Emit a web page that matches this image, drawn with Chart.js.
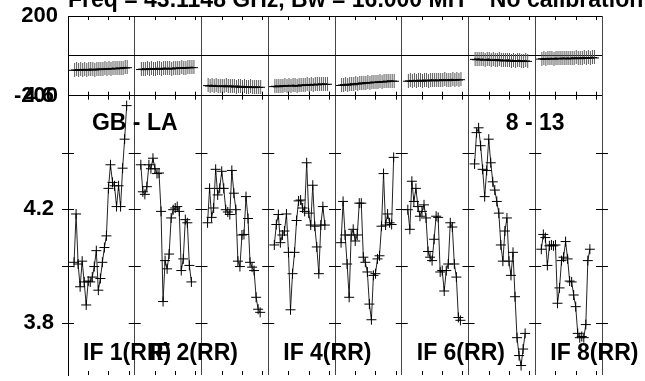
<!DOCTYPE html>
<html>
<head>
<meta charset="utf-8">
<script src="https://cdn.jsdelivr.net/npm/chart.js@4"></script>
<style>
  html, body { margin: 0; padding: 0; background: #fff; }
  #wrap { width: 645px; height: 381px; }
</style>
</head>
<body>
<div id="wrap"><canvas id="possm" width="645" height="381"></canvas></div>
<script>
// panel labels
const ifNames = ['IF 1(RR)', 'IF 2(RR)', 'IF 3(RR)', 'IF 4(RR)', 'IF 5(RR)', 'IF 6(RR)', 'IF 7(RR)', 'IF 8(RR)'];
const shownIF = [0, 1, 3, 5, 7];
const baselines = [{ text: 'GB - LA', at: 1 }, { text: '8 - 13', at: 7 }];
const titleText = 'Freq = 43.1148 GHz, Bw = 16.000 MH    No calibration';

// channel axis (each IF panel is 33 channels wide)
const chPerIF = 33;
const firstChan = 3;
const chanTicks = [10, 20, 30];

// axis ticks
const phaseTicks = [-200, 0, 200];
const ampTicks = [3.8, 4.0, 4.2, 4.4, 4.6];
const ampLabels = [3.8, 4.2, 4.6];

// amplitude per channel
const amp1 = [4.014, 4.184, 4.008, 3.928, 4.018, 3.945, 3.864, 3.948, 3.945, 3.962, 3.999, 4.055, 3.916, 3.957,
  4.014, 4.066, 4.107, 4.274, 4.357, 4.295, 4.283, 4.21, 4.283, 4.21, 4.345, 4.447, 4.565];
const amp2 = [4.357, 4.262, 4.253, 4.28, 4.357, 4.343, 4.38, 4.343, 4.326, 4.328, 4.193, 3.876, 4.02, 3.991,
  4.043, 4.17, 4.199, 4.205, 4.21, 4.193, 3.985, 4.026, 4.164, 4.153, 4.003, 3.945];
const amp3 = [4.153, 4.274, 4.172, 4.205, 4.341, 4.251, 4.274, 4.334, 4.274, 4.199, 4.191, 4.182, 4.337, 4.257,
  4.199, 4.018, 3.999, 4.11, 4.112, 4.245, 4.168, 4.014, 3.997, 3.985, 3.891, 3.849, 3.838];
const amp4 = [4.075, 4.147, 4.182, 4.083, 4.11, 4.124, 4.184, 4.049, 3.847, 3.974, 4.049, 4.161, 4.23, 4.233,
  4.205, 4.193, 4.364, 4.187, 4.145, 4.285, 4.141, 4.068, 3.974, 4.145, 4.21, 4.145];
const amp5 = [4.083, 4.228, 4.11, 4.008, 3.891, 4.11, 4.13, 4.089, 4.11, 4.222, 4.222, 4.032, 4.014, 3.98,
  3.867, 3.812, 3.968, 3.974, 4.026, 4.037, 4.141, 4.326, 4.145, 4.184, 4.153, 4.147, 4.383];
const amp6 = [4.199, 4.13, 4.299, 4.228, 4.274, 4.21, 4.176, 4.193, 4.216, 4.17, 4.052, 4.032, 4.02, 4.095,
  4.176, 4.172, 3.98, 3.985, 3.913, 3.985, 4.008, 4.153, 4.138, 4.008, 3.962, 3.82, 3.81];
const amp7 = [4.36, 4.47, 4.487, 4.424, 4.341, 4.245, 4.337, 4.447, 4.364, 4.297, 4.268, 4.228, 4.187, 4.075,
  4.018, 4.124, 4.17, 4.018, 3.968, 4.049, 3.893, 3.749, 3.686, 3.651, 3.709, 3.764];
const amp8 = [4.06, 4.112, 4.101, 4.003, 4.072, 4.075, 4.072, 4.075, 3.87, 3.924, 4.02, 4.032, 4.087, 4.026,
  3.948, 3.945, 3.899, 3.858, 3.764, 3.749, 3.753, 3.749, 3.795, 4.02, 4.06];

// phase per channel (degrees)
const phase1 = [-70, -68, -71, -67, -69, -66, -70, -68, -65, -67, -69, -66, -64, -67, -65, -63, -66, -62, -64, -61, -63, -60, -62, -59, -60, -58, -57];
const phase2 = [-66, -64, -67, -63, -65, -62, -66, -64, -61, -63, -65, -62, -60, -63, -61, -64, -60, -62, -59, -61, -58, -60, -59, -57, -58, -56, -57];
const phase3 = [-147, -149, -146, -150, -148, -151, -149, -152, -150, -148, -153, -151, -149, -152, -154, -150, -153, -155, -152, -154, -156, -153, -155, -157, -154, -156, -155];
const phase4 = [-152, -150, -153, -149, -151, -148, -150, -147, -149, -146, -148, -150, -146, -147, -144, -146, -143, -145, -142, -144, -141, -143, -140, -142, -139, -141, -140];
const phase5 = [-146, -144, -142, -145, -141, -140, -143, -138, -139, -136, -138, -134, -135, -133, -134, -131, -132, -130, -131, -128, -129, -127, -128, -125, -126, -124, -125];
const phase6 = [-125, -123, -126, -122, -124, -121, -123, -125, -120, -122, -124, -121, -119, -122, -120, -123, -119, -121, -118, -120, -122, -119, -117, -120, -118, -119, -117];
const phase7 = [-15, -17, -14, -18, -16, -19, -17, -15, -20, -18, -21, -19, -17, -22, -20, -23, -21, -19, -24, -22, -25, -23, -21, -24, -26, -23, -25];
const phase8 = [-14, -12, -15, -11, -13, -12, -14, -10, -12, -13, -11, -9, -12, -10, -13, -9, -11, -8, -10, -12, -9, -7, -10, -8, -9, -6, -8];

const ampSets = [amp1, amp2, amp3, amp4, amp5, amp6, amp7, amp8];
const phaseSets = [phase1, phase2, phase3, phase4, phase5, phase6, phase7, phase8];

const FONT = '"Liberation Sans", Arial, Helvetica, sans-serif';

// cross with a grey error bar for the phase points
function phaseMark() {
    const c = document.createElement('canvas');
    c.width = 10;
    c.height = 14;
    const g = c.getContext('2d');
    g.fillStyle = '#5a5a5a';
    g.fillRect(5, 0, 1, 14);
    g.fillStyle = '#000';
    g.fillRect(0, 7, 10, 1);
    return c;
}
const phaseCross = phaseMark();

function toPoints(values, panel) {
    return values.map((v, i) => ({ x: panel * chPerIF + firstChan + i, y: v }));
}

const datasets = [];
ampSets.forEach((vals, p) => {
    datasets.push({
        yAxisID: 'amp',
        data: toPoints(vals, p),
        borderColor: '#222',
        borderWidth: 1,
        pointStyle: 'cross',
        pointRadius: 5,
        pointBorderColor: '#000',
        pointBorderWidth: 1,
        pointBackgroundColor: 'transparent'
    });
});
phaseSets.forEach((vals, p) => {
    datasets.push({
        yAxisID: 'phase',
        data: toPoints(vals, p),
        borderColor: '#000',
        borderWidth: 1,
        pointStyle: phaseCross,
        pointRadius: 5
    });
});

const panelEdges = [0].concat(ifNames.map((n, i) => (i + 1) * chPerIF));

// little tick marks inside the panels, plus the labels
const possmDecor = {
    id: 'possmDecor',
    afterDatasetsDraw(chart) {
        const ctx = chart.ctx;
        const xs = chart.scales.x;
        const ys = chart.scales.amp;
        const ps = chart.scales.phase;
        const area = chart.chartArea;
        const pTop = ps.getPixelForValue(200);
        const pBot = ps.getPixelForValue(-200);

        ctx.save();
        ctx.strokeStyle = '#000';
        ctx.lineWidth = 1;
        ctx.beginPath();
        ifNames.forEach((n, p) => {
            chanTicks.forEach(ch => {
                const x = Math.round(xs.getPixelForValue(p * chPerIF + ch)) + 0.5;
                ctx.moveTo(x, pTop); ctx.lineTo(x, pTop + 4);
                ctx.moveTo(x, pBot - 4); ctx.lineTo(x, pBot + 4);
                ctx.moveTo(x, area.bottom); ctx.lineTo(x, area.bottom - 4);
            });
        });
        panelEdges.forEach(e => {
            const x = xs.getPixelForValue(e);
            ampTicks.slice(0, 4).forEach(v => {
                const y = Math.round(ys.getPixelForValue(v)) + 0.5;
                ctx.moveTo(x - 6, y); ctx.lineTo(x + 6, y);
            });
        });
        ctx.stroke();

        ctx.fillStyle = '#000';
        ctx.font = 'bold 23px ' + FONT;
        ctx.textBaseline = 'alphabetic';
        ctx.textAlign = 'left';
        ctx.fillText(titleText, xs.getPixelForValue(0), 7);

        const labelY = ys.getPixelForValue(3.8) + 37;
        shownIF.forEach(p => {
            ctx.fillText(ifNames[p], xs.getPixelForValue(p * chPerIF) + 15, labelY);
        });
        ctx.textAlign = 'center';
        baselines.forEach(b => {
            ctx.fillText(b.text, xs.getPixelForValue(b.at * chPerIF), ys.getPixelForValue(4.6) + 34);
        });
        ctx.restore();
    }
};

new Chart(document.getElementById('possm'), {
    type: 'line',
    data: { datasets: datasets },
    plugins: [possmDecor],
    options: {
        responsive: false,
        animation: false,
        devicePixelRatio: 1,
        layout: { padding: { top: 16, right: 43, left: 0, bottom: 0 } },
        plugins: { legend: { display: false }, tooltip: { enabled: false } },
        elements: { line: { tension: 0 } },
        scales: {
            x: {
                type: 'linear',
                min: 0,
                max: ifNames.length * chPerIF,
                afterBuildTicks: s => { s.ticks = panelEdges.map(v => ({ value: v })); },
                ticks: { display: false },
                grid: { color: '#444', lineWidth: 1, drawTicks: false },
                border: { display: false },
                afterFit: s => { s.height = 0; }
            },
            amp: {
                type: 'linear',
                position: 'left',
                stack: 'possm',
                stackWeight: 284,
                weight: 0,
                min: 3.6177,
                max: 4.6,
                afterBuildTicks: s => { s.ticks = ampTicks.map(v => ({ value: v })); },
                ticks: {
                    autoSkip: false,
                    padding: 14,
                    color: '#000',
                    font: { family: FONT, size: 22, weight: 'bold' },
                    callback: v => ampLabels.some(a => Math.abs(a - v) < 1e-6) ? v.toFixed(1) : ''
                },
                grid: { drawOnChartArea: false, drawTicks: false },
                border: { display: true, color: '#000', width: 1 },
                afterFit: s => { s.width = 68; s.paddingTop = 0; s.paddingBottom = 0; }
            },
            phase: {
                type: 'linear',
                position: 'left',
                stack: 'possm',
                stackWeight: 81,
                weight: 1,
                min: -200,
                max: 200,
                afterBuildTicks: s => { s.ticks = phaseTicks.map(v => ({ value: v })); },
                ticks: {
                    autoSkip: false,
                    padding: 10,
                    color: '#000',
                    font: { family: FONT, size: 22, weight: 'bold' },
                    callback: v => v === 0 ? '' : String(v)
                },
                grid: { color: '#000', lineWidth: 1, drawTicks: false },
                border: { display: true, color: '#000', width: 1 },
                afterFit: s => { s.width = 68; s.paddingTop = 0; s.paddingBottom = 0; }
            }
        }
    }
});
</script>
</body>
</html>
